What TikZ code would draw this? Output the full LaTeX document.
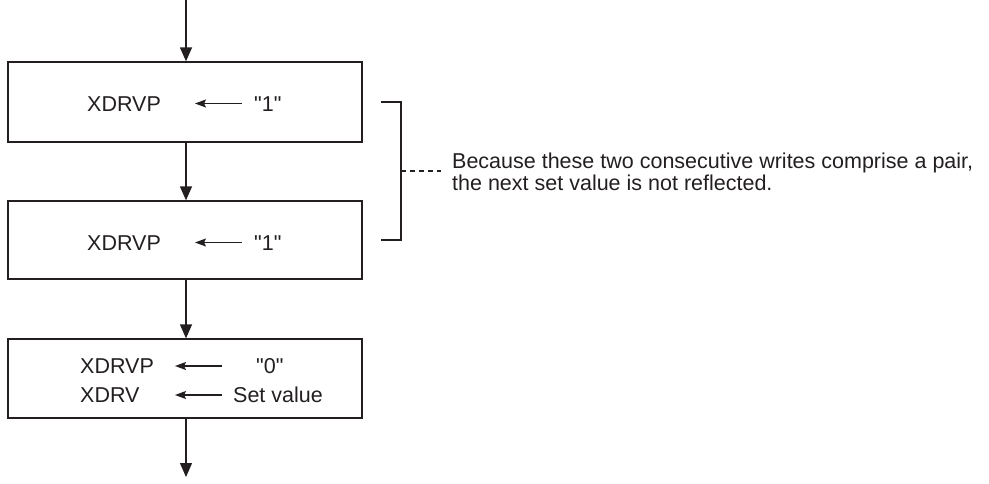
\documentclass[tikz,border=0pt]{standalone}
\usepackage{fontspec}
\newfontfamily\arialfont{Liberation Sans}
\usetikzlibrary{arrows.meta}
\definecolor{ink}{RGB}{35,31,32}
\begin{document}
\begin{tikzpicture}[x=1pt,y=-1pt,
  every node/.style={font=\arialfont\fontsize{21.5}{23}\selectfont, text=ink, inner sep=0pt},
  box/.style={draw=ink, line width=1.3pt, minimum width=354pt, minimum height=80pt},
  flow/.style={draw=ink, line width=1.3pt, -{Triangle[length=14pt,width=12pt]}},
  assign/.style={draw=ink, line width=1.2pt, {Stealth[length=11pt,width=8pt,inset=2pt]}-},
  bracket/.style={draw=ink, line width=1.3pt},
  txt/.style={anchor=base west}]
\useasboundingbox (0,0) rectangle (989,483);
% boxes
\node[box] (b1) at (185,102) {};
\node[box, minimum height=78pt] (b2) at (185,240) {};
\node[box, minimum height=79pt] (b3) at (185,378.5) {};
% box 1 text
\node[txt] (t1a) at (87,111) {XDRVP};
\node[txt] (t1b) at (254,111) {"1"};
\coordinate (a1s) at (195,103.5);
\coordinate (a1e) at (242,103.5);
\draw[assign] (a1s) -- (a1e);
% box 2 text
\node[txt] (t2a) at (87,250) {XDRVP};
\node[txt] (t2b) at (254,250) {"1"};
\coordinate (a2s) at (195,242.5);
\coordinate (a2e) at (242,242.5);
\draw[assign] (a2s) -- (a2e);
% box 3 text
\node[txt] (t3a) at (80,373.5) {XDRVP};
\node[txt] (t3b) at (256,373.5) {"0"};
\node[txt] (t3c) at (80,402.5) {XDRV};
\node[txt] (t3d) at (233,402.5) {Set value};
\coordinate (a3s) at (175,366);
\coordinate (a3e) at (222,366);
\coordinate (a4s) at (175,395);
\coordinate (a4e) at (222,395);
\draw[assign] (a3s) -- (a3e);
\draw[assign] (a4s) -- (a4e);
% flow arrows
\coordinate (start) at (186,0);
\coordinate (end) at (186,477);
\draw[flow] (start) -- (b1.north -| start);
\draw[flow] (b1.south -| start) -- (b2.north -| start);
\draw[flow] (b2.south -| start) -- (b3.north -| start);
\draw[flow] (b3.south -| start) -- (end);
% bracket
\coordinate (bt1) at (381,102);
\coordinate (bt2) at (401,102);
\coordinate (bb2) at (401,240);
\coordinate (bb1) at (381,240);
\coordinate (bm) at (401,171);
\coordinate (dm) at (441,171);
\draw[bracket] (bt1) -- (bt2) -- (bb2) -- (bb1);
\draw[draw=ink, line width=1.1pt, dash pattern=on 5pt off 4pt] (bm) -- (dm);
\node[txt] (n1) at (452,168) {Because these two consecutive writes comprise a pair,};
\node[txt] (n2) at (452,190) {the next set value is not reflected.};
\end{tikzpicture}
\end{document}
